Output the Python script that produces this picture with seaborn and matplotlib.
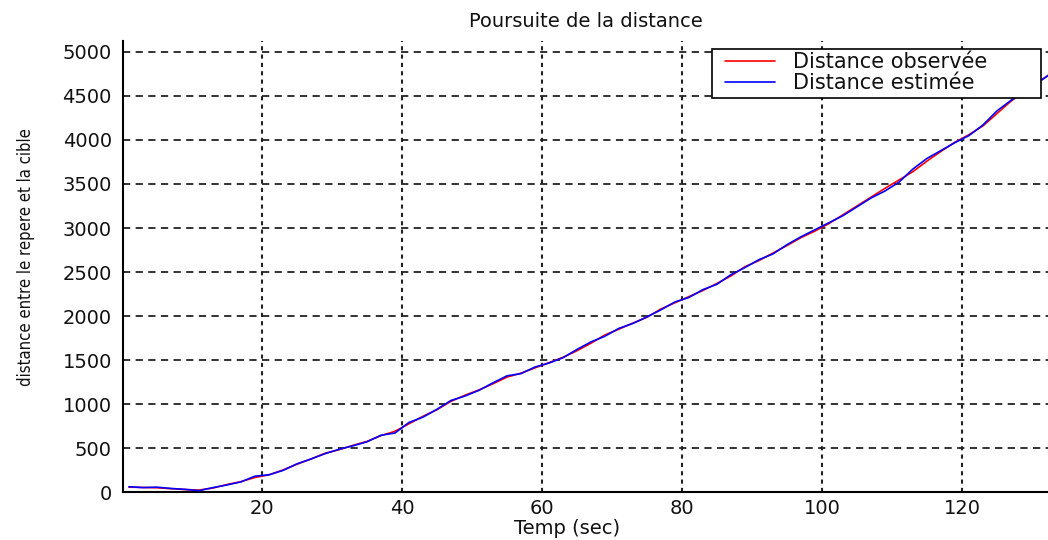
import numpy as np
import pandas as pd
import matplotlib
matplotlib.use("Agg")
import matplotlib.pyplot as plt
from matplotlib.lines import Line2D
from matplotlib.patches import Rectangle
import seaborn as sns

# Time samples (s)
temps = list(range(1, 135, 2))

# Observed range to the target
distance_observee = [
    55, 52, 48, 38, 28, 22, 45, 85, 118, 165,
    195, 250, 315, 375, 440, 480, 530, 575, 640, 690,
    775, 860, 935, 1030, 1100, 1160, 1230, 1305, 1350, 1410,
    1470, 1530, 1605, 1690, 1785, 1850, 1920, 1985, 2080, 2150,
    2220, 2290, 2370, 2455, 2560, 2630, 2715, 2800, 2890, 2965,
    3050, 3150, 3250, 3350, 3450, 3545, 3640, 3760, 3870, 3975,
    4060, 4160, 4300, 4440, 4560, 4665, 4770,
]

# Filter estimate of the range
distance_estimee = [
    60, 50, 55, 40, 30, 15, 50, 80, 115, 180,
    195, 245, 320, 375, 435, 485, 525, 570, 645, 670,
    790, 850, 940, 1040, 1090, 1155, 1240, 1320, 1345, 1420,
    1465, 1525, 1620, 1705, 1770, 1860, 1915, 1990, 2070, 2160,
    2210, 2300, 2360, 2470, 2550, 2640, 2705, 2810, 2900, 2980,
    3060, 3140, 3240, 3340, 3420, 3520, 3670, 3790, 3880, 3970,
    4050, 4170, 4330, 4450, 4555, 4660, 4770,
]

lab_obs = "Distance observée"
lab_est = "Distance estimée"

df = pd.DataFrame({
    "t": temps * 2,
    "d": distance_observee + distance_estimee,
    "serie": [lab_obs] * len(temps) + [lab_est] * len(temps),
})

sns.set_style("white")
plt.rcParams["font.family"] = ["DejaVu Sans"]

W, H = 1048, 540
L, R, T, B = 123, 1048, 41, 492
fig = plt.figure(figsize=(W / 100, H / 100), dpi=100)
ax = fig.add_axes([L / W, (H - B) / H, (R - L) / W, (B - T) / H])


def ax_frac(px, py):
    return (px - L) / (R - L), (B - py) / (B - T)


sns.lineplot(data=df, x="t", y="d", hue="serie",
             palette={lab_obs: "#ff0000", lab_est: "#0000ff"},
             linewidth=1.2, ax=ax, legend=False, zorder=3)

ax.set_xlim(0.15, 132.3)
ax.set_ylim(0, 5125)
ax.set_xticks(range(20, 121, 20))
ax.set_yticks(range(0, 5001, 500))

# grid: dashed horizontal, dotted vertical
for yv in range(0, 5001, 500):
    ax.axhline(yv, color="#222222", lw=1.3, dashes=(4, 3), zorder=1)
for xv in range(20, 121, 20):
    ax.axvline(xv, color="#222222", lw=1.5, dashes=(2, 2), zorder=1)

for s in ["top", "right"]:
    ax.spines[s].set_visible(False)
for s in ["left", "bottom"]:
    ax.spines[s].set_color("black")
    ax.spines[s].set_linewidth(1.5)

ax.tick_params(axis="y", direction="in", length=12, width=1.2, color="black",
               labelsize=14, labelcolor="#111111", pad=8)
ax.tick_params(axis="x", direction="in", length=7, width=1.2, color="black",
               labelsize=14, labelcolor="#111111", pad=5)

ax.set_title("Poursuite de la distance", fontsize=14, color="#111111", pad=10)
ax.set_xlabel("Temp (sec)", fontsize=14, color="#111111")
ax.xaxis.set_label_coords(0.48, -0.06)
ax.set_ylabel("distance entre le repere et la cible",
              family=["Liberation Sans Narrow", "DejaVu Sans"],
              fontstretch="condensed", fontsize=12, color="#111111")
ax.yaxis.set_label_coords(-0.095, 0.521)

# legend box drawn as a plain rectangle, entries placed inside it
x0, y0 = ax_frac(712, 98)
x1, y1 = ax_frac(1041, 49)
ax.add_patch(Rectangle((x0, y0), x1 - x0, y1 - y0, transform=ax.transAxes,
                       facecolor="white", edgecolor="black", lw=1.2,
                       zorder=5, clip_on=False))
handles = [Line2D([], [], color="#ff0000", lw=1.2),
           Line2D([], [], color="#0000ff", lw=1.2)]
lx, ly = ax_frac(725, 52)
leg = ax.legend(handles, [lab_obs, lab_est], loc="upper left",
                bbox_to_anchor=(lx, ly), fontsize=15, frameon=False,
                borderpad=0.0, labelspacing=0.06, handlelength=2.4,
                handletextpad=0.85, borderaxespad=0)
leg.set_zorder(6)
for t in leg.get_texts():
    t.set_color("#111111")

fig.savefig("out.png", dpi=100)
